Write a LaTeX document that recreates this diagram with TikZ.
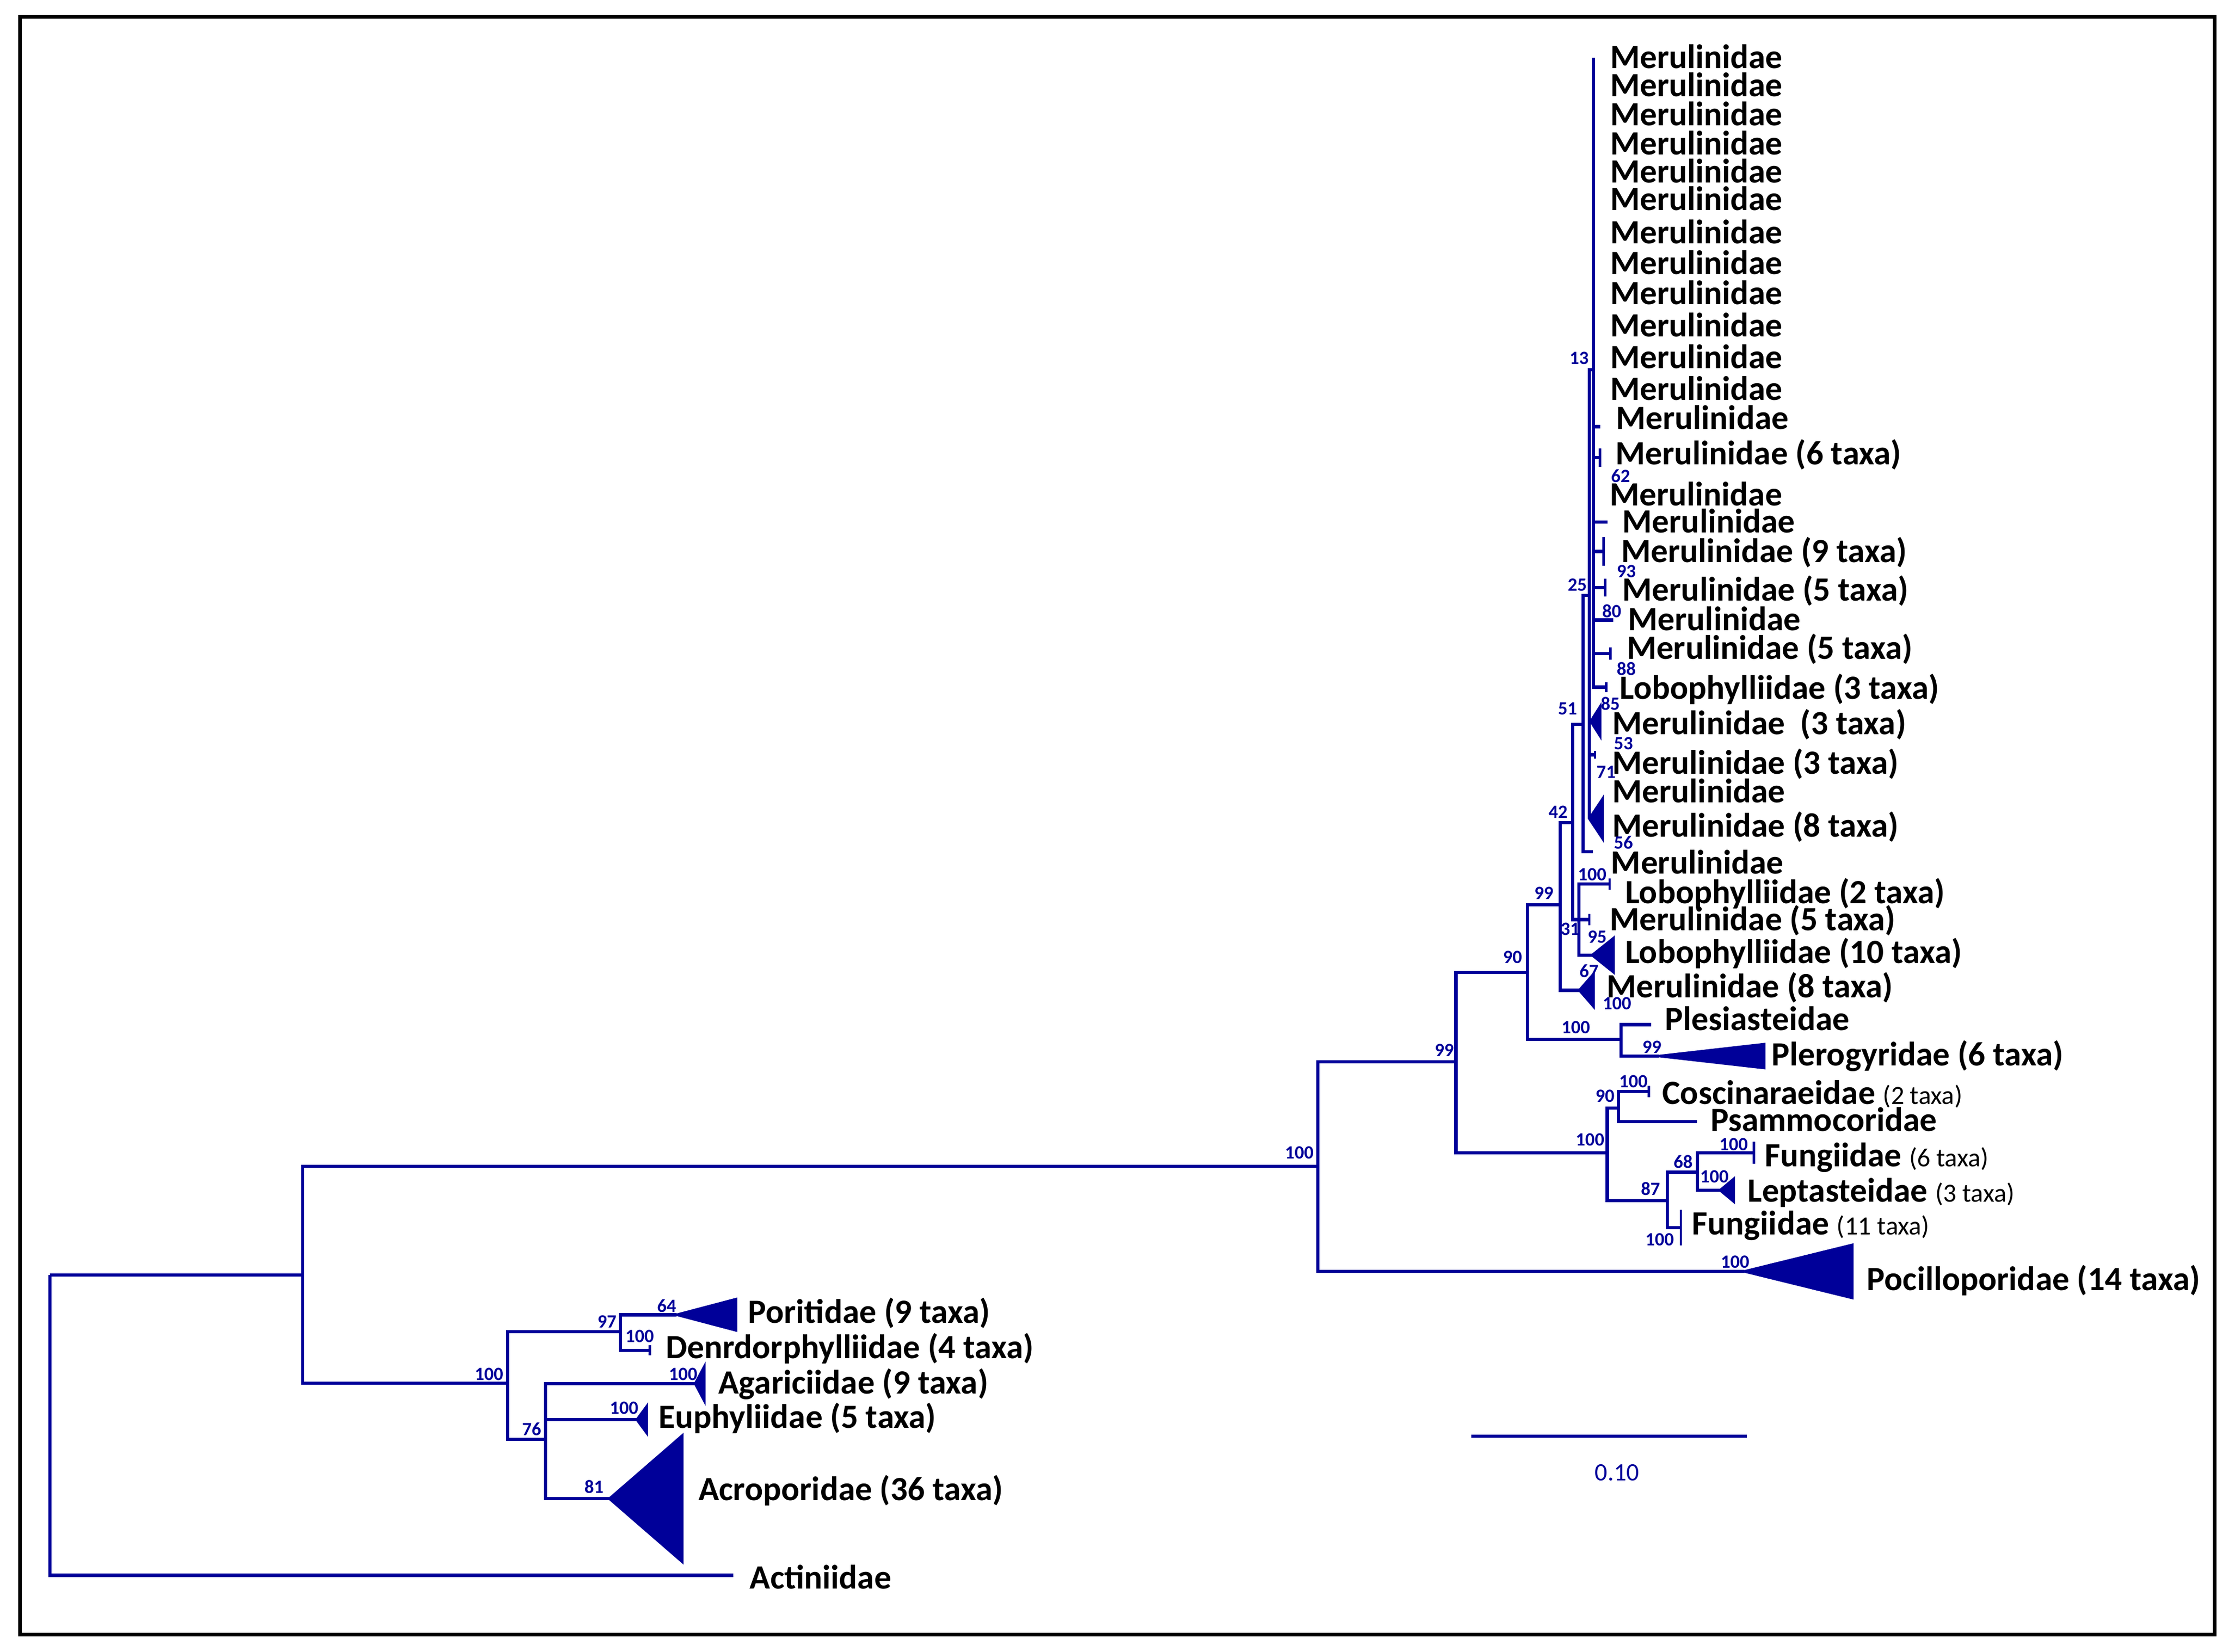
\documentclass[tikz,border=0pt]{standalone}
\usepackage{fontspec}
\setmainfont{Carlito}
\definecolor{treeblue}{RGB}{0,0,153}
\newcommand{\taxacount}[1]{{\mdseries\fontsize{10.5}{12}\selectfont(#1 taxa)}}
\newcommand{\clade}[3]{\filldraw[cladefill] (#1) -- ++(#2,-#3) -- ++(0,2*#3) -- cycle;}
\tikzset{
  br/.style={draw=treeblue, line width=1.3pt},
  cladefill/.style={br, line width=1pt, fill=treeblue},
  taxon/.style={anchor=base west, inner sep=0pt, yshift=-4.4pt,
    font=\bfseries\fontsize{13.6}{15}\selectfont},
  boot/.style={inner sep=0pt, text=treeblue, font=\bfseries\fontsize{7.5}{8}\selectfont}
}
\begin{document}
\begin{tikzpicture}[x=0.2mm,y=-0.2mm]
\useasboundingbox (0,0) rectangle (1568,1162);
\draw[black,line width=1.5pt] (14,11.9) rectangle (1558,1150);
% tree nodes
\coordinate (root) at (35,897);
\coordinate (nA) at (213,897);
\coordinate (nB) at (927,820.7);
\coordinate (nC) at (357,973);
\coordinate (nD) at (436.4,936.8);
\coordinate (nE) at (383.8,1012.7);
\coordinate (nF) at (1024.2,747);
\coordinate (nG) at (1074.6,684);
\coordinate (nH) at (1097.5,636.6);
\coordinate (nI) at (1106.3,578.7);
\coordinate (nJ) at (1113.6,509.7);
\coordinate (nK) at (1118,419);
\coordinate (nL) at (1121,260);
\coordinate (nM) at (1110.7,647);
\coordinate (nN) at (1140.4,731.4);
\coordinate (nO) at (1130.6,811.2);
\coordinate (nP) at (1138.5,779.6);
\coordinate (nQ) at (1173,844.8);
\coordinate (nR) at (1194,824.8);
% tips
\coordinate (tAct) at (516,1108.3);
\coordinate (tPor) at (476,925);
\coordinate (tDen) at (457,950);
\coordinate (tAga) at (489,973.5);
\coordinate (tEup) at (448,998.8);
\coordinate (tAcr) at (428.7,1054.4);
\coordinate (tPoc) at (1227,894.5);
\coordinate (tPle) at (1161.4,720.9);
\coordinate (tPlg) at (1167,743);
\coordinate (tCos) at (1160,768);
\coordinate (tPsa) at (1193.6,789);
\coordinate (tFuA) at (1233.7,811);
\coordinate (tLep) at (1210,837.4);
\coordinate (tFuB) at (1182.4,863.7);
\coordinate (tMerHb) at (1111,696.7);
\coordinate (tLobB) at (1132.3,622);
\coordinate (tMerMc) at (1118,647);
\coordinate (tLobT) at (1120,672);
\coordinate (tMerJ) at (1120.4,599.3);
\coordinate (tMerKa) at (1119,507.5);
\coordinate (tMerKb) at (1122,531);
\coordinate (tMerKc) at (1118,576);
\coordinate (tTop) at (1121,40.5);
\coordinate (tMa) at (1125.8,300.2);
\coordinate (tMb) at (1125.6,322);
\coordinate (tMc) at (1130.8,367.3);
\coordinate (tMd) at (1128,388);
\coordinate (tMe) at (1129.3,413.4);
\coordinate (tMf) at (1134.7,436.3);
\coordinate (tMg) at (1132.8,459.8);
\coordinate (tLobA) at (1130,483.5);
% branches
\draw[br] (root) |- (nA) (root) |- (tAct);
\draw[br] (nA) |- (nB) (nA) |- (nC);
\draw[br] (nC) |- (nD) (nC) |- (nE);
\draw[br] (nD) |- (tPor) (nD) |- (tDen);
\draw[br] (nE) |- (tAga) (nE) |- (tEup) (nE) |- (tAcr);
\draw[br] (nB) |- (nF) (nB) |- (tPoc);
\draw[br] (nF) |- (nG) (nF) |- (nO);
\draw[br] (nG) |- (nH) (nG) |- (nN);
\draw[br] (nH) |- (nI) (nH) |- (tMerHb);
\draw[br] (nI) |- (nJ) (nI) |- (nM);
\draw[br] (nJ) |- (nK) (nJ) |- (tMerJ);
\draw[br] (nK) |- (nL) (nK) |- (tMerKa) (nK) |- (tMerKb) (nK) |- (tMerKc);
\draw[br] (nL) |- (tTop) (nL) |- (tMa) (nL) |- (tMb) (nL) |- (tMc) (nL) |- (tMd)
  (nL) |- (tMe) (nL) |- (tMf) (nL) |- (tMg) (nL) |- (tLobA);
\draw[br] (nM) |- (tLobB) (nM) |- (tMerMc) (nM) |- (tLobT);
\draw[br] (nN) |- (tPle) (nN) |- (tPlg);
\draw[br] (nO) |- (nP) (nO) |- (nQ);
\draw[br] (nP) |- (tCos) (nP) |- (tPsa);
\draw[br] (nQ) |- (nR) (nQ) |- (tFuB);
\draw[br] (nR) |- (tFuA) (nR) |- (tLep);
% collapsed clades
\clade{tPor}{41.7}{11}
\clade{tDen}{0}{3.5}
\clade{tAga}{6.4}{12}
\clade{tEup}{7}{9.5}
\clade{tAcr}{51.3}{44.5}
\clade{tPoc}{76}{18.7}
\clade{tPlg}{74}{8.4}
\clade{tCos}{0}{4}
\clade{tFuA}{0}{7.8}
\clade{tLep}{9.6}{8}
\clade{tFuB}{0}{12.5}
\clade{tMerHb}{10}{11.5}
\clade{tLobB}{0}{4}
\clade{tMerMc}{0}{4}
\clade{tLobT}{15}{12}
\clade{tMerKa}{6.7}{10.6}
\clade{tMerKb}{0}{2.7}
\clade{tMerKc}{9.3}{14}
\clade{tMb}{0}{6.5}
\clade{tMd}{0}{10}
\clade{tMe}{0}{6.3}
\clade{tMg}{0}{4.3}
\clade{tLobA}{0}{3.5}
% taxa
\foreach \yy [count=\i] in {40.5,60.1,80.6,101.2,120.8,140.4,163.7,185.2,206.6,229,251.4,273.8}
  \node[taxon] (lMer\i) at (1132.3,\yy) {Merulinidae};
\node[taxon] (lMa) at (1136.5,294.4) {Merulinidae};
\node[taxon] (lMb) at (1136,319) {Merulinidae (6 taxa)};
\node[taxon] (lMz) at (1132,348) {Merulinidae};
\node[taxon] (lMc) at (1141,367) {Merulinidae};
\node[taxon] (lMd) at (1140,388) {Merulinidae (9 taxa)};
\node[taxon] (lMe) at (1141,415) {Merulinidae (5 taxa)};
\node[taxon] (lMf) at (1145,436) {Merulinidae};
\node[taxon] (lMg) at (1144,456) {Merulinidae (5 taxa)};
\node[taxon] (lLobA) at (1139,484) {Lobophylliidae (3 taxa)};
\node[taxon] (lMerKa) at (1134,509) {Merulinidae\ \ (3 taxa)};
\node[taxon] (lMerKb) at (1134,537) {Merulinidae (3 taxa)};
\node[taxon] (lMerKz) at (1134,557) {Merulinidae};
\node[taxon] (lMerKc) at (1134,581) {Merulinidae (8 taxa)};
\node[taxon] (lMerJ) at (1133,607) {Merulinidae};
\node[taxon] (lLobB) at (1143,628) {Lobophylliidae (2 taxa)};
\node[taxon] (lMerMc) at (1132,647) {Merulinidae (5 taxa)};
\node[taxon] (lLobT) at (1143,670) {Lobophylliidae (10 taxa)};
\node[taxon] (lMerHb) at (1130,694) {Merulinidae (8 taxa)};
\node[taxon] (lPle) at (1171,717) {Plesiasteidae};
\node[taxon] (lPlg) at (1246,742) {Plerogyridae (6 taxa)};
\node[taxon] (lCos) at (1169,769) {Coscinaraeidae \taxacount{2}};
\node[taxon] (lPsa) at (1203,788) {Psammocoridae};
\node[taxon] (lFuA) at (1241,813) {Fungiidae \taxacount{6}};
\node[taxon] (lLep) at (1229,838) {Leptasteidae \taxacount{3}};
\node[taxon] (lFuB) at (1190,861) {Fungiidae \taxacount{11}};
\node[taxon] (lPoc) at (1313,900) {Pocilloporidae (14 taxa)};
\node[taxon] (lPor) at (526,923) {Poritidae (9 taxa)};
\node[taxon] (lDen) at (468,948) {Denrdorphylliidae (4 taxa)};
\node[taxon] (lAga) at (505,973) {Agariciidae (9 taxa)};
\node[taxon] (lEup) at (463,997) {Euphyliidae (5 taxa)};
\node[taxon] (lAcr) at (491,1048) {Acroporidae (36 taxa)};
\node[taxon] (lAct) at (527,1110) {Actiniidae};
% bootstrap values
\node[boot] (bL) at (1110.8,252) {13};
\node[boot] (bMb) at (1140,334.8) {62};
\node[boot] (bMd) at (1144,402) {93};
\node[boot] (bK) at (1109.5,411.6) {25};
\node[boot] (bMf) at (1133.8,429.9) {80};
\node[boot] (bMg) at (1144,470.7) {88};
\node[boot] (bKa) at (1132.8,495) {85};
\node[boot] (bJ) at (1102.7,498.7) {51};
\node[boot] (bKb) at (1142,523) {53};
\node[boot] (bKz) at (1129.8,543.2) {71};
\node[boot] (bI) at (1096,571.3) {42};
\node[boot] (bKc) at (1142,592.8) {56};
\node[boot] (bLobB) at (1120,615.2) {100};
\node[boot] (bH) at (1086,628.5) {99};
\node[boot] (bM) at (1104.5,653.6) {31};
\node[boot] (bLobT) at (1123.5,659) {95};
\node[boot] (bG) at (1064,673.6) {90};
\node[boot] (bHb) at (1117.8,683) {67};
\node[boot] (bHc) at (1137.5,706) {100};
\node[boot] (bN) at (1108.5,723) {100};
\node[boot] (bPlg) at (1162,736.6) {99};
\node[boot] (bF) at (1016,738.7) {99};
\node[boot] (bCos) at (1149,760.7) {100};
\node[boot] (bP) at (1129,771) {90};
\node[boot] (bO) at (1118.5,801.7) {100};
\node[boot] (bFuA) at (1219.5,805) {100};
\node[boot] (bR) at (1184,817.5) {68};
\node[boot] (bLep) at (1206,828) {100};
\node[boot] (bQ) at (1161,836.4) {87};
\node[boot] (bFuB) at (1167.5,872) {100};
\node[boot] (bPoc) at (1220.5,887.8) {100};
\node[boot] (bB) at (914,811) {100};
\node[boot] (bD) at (427,930) {97};
\node[boot] (bPor) at (469,918.8) {64};
\node[boot] (bDen) at (450,940) {100};
\node[boot] (bC) at (344,967) {100};
\node[boot] (bAga) at (480.5,967) {100};
\node[boot] (bEup) at (439,990.7) {100};
\node[boot] (bE) at (374,1005.4) {76};
\node[boot] (bAcr) at (417.8,1046) {81};
% scale bar
\coordinate (sbL) at (1035,1010.4);
\coordinate (sbR) at (1229,1010.4);
\draw[br] (sbL) -- (sbR);
\node[inner sep=0pt, text=treeblue, font=\fontsize{10}{12}\selectfont] (sbLab) at (1137.5,1036) {0.10};
\end{tikzpicture}
\end{document}
